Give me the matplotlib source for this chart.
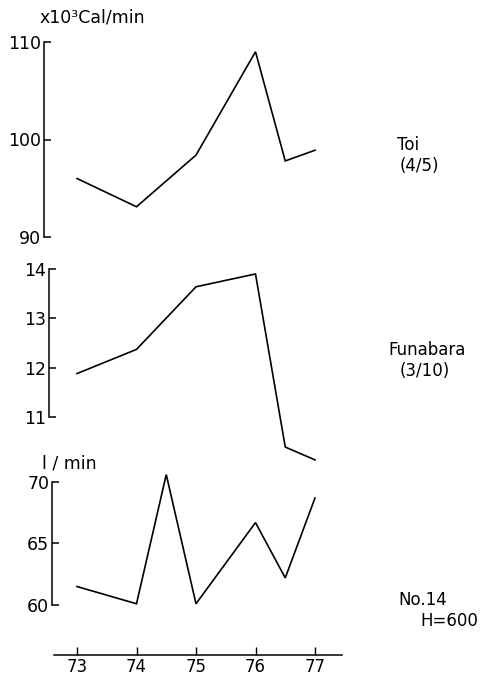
import matplotlib
matplotlib.use("Agg")
import matplotlib.pyplot as plt

# Yearly series (x = year, 19xx)
toi_years = [73, 74, 75, 76, 76.5, 77]
toi_values = [96.0, 93.1, 98.4, 109.0, 97.8, 98.9]

funabara_years = [73, 74, 75, 76, 76.5, 77]
funabara_values = [11.88, 12.37, 13.64, 13.9, 10.39, 10.13]

no14_years = [73, 74, 74.5, 75, 76, 76.5, 77]
no14_values = [61.5, 60.1, 70.6, 60.1, 66.7, 62.2, 68.7]

year_ticks = [73, 74, 75, 76, 77]
toi_ticks = [90, 100, 110]
funabara_ticks = [11, 12, 13, 14]
no14_ticks = [60, 65, 70]

W, H = 485, 678
fig = plt.figure(figsize=(W / 100, H / 100), dpi=100)
plt.rcParams["font.family"] = ["DejaVu Sans"]

XLIM = (72.3, 77.6)
X_LEFT_PX, X_RIGHT_PX = 35.35, 350.7


def box(top, bottom):
    return [X_LEFT_PX / W, 1 - bottom / H, (X_RIGHT_PX - X_LEFT_PX) / W, (bottom - top) / H]


def panel(rect, ylim, spine_x, ticks, xs, ys):
    ax = fig.add_axes(rect)
    ax.set_xlim(*XLIM)
    ax.set_ylim(*ylim)
    ax.patch.set_alpha(0)
    for s in ("top", "right", "bottom"):
        ax.spines[s].set_visible(False)
    ax.spines["left"].set_position(("data", spine_x))
    ax.spines["left"].set_bounds(ticks[0], ticks[-1])
    ax.spines["left"].set_linewidth(1.1)
    ax.set_yticks(ticks)
    ax.tick_params(axis="y", direction="in", length=5, width=1.1, pad=2, labelsize=12.5)
    ax.set_xticks([])
    ax.plot(xs, ys, color="black", lw=1.2, clip_on=False, solid_joinstyle="miter")
    return ax


panel(box(42, 237), (90, 110), 72.445, toi_ticks, toi_years, toi_values)
panel(box(264.1, 471.2), (9.9, 14.1), 72.53, funabara_ticks, funabara_years, funabara_values)
panel(box(463.5, 617.3), (59, 71.5), 72.58, no14_ticks, no14_years, no14_values)

# Shared year axis along the bottom
axx = fig.add_axes(box(645, 655))
axx.set_xlim(*XLIM)
axx.patch.set_alpha(0)
for s in ("top", "right", "left"):
    axx.spines[s].set_visible(False)
axx.spines["bottom"].set_bounds(72.61, 77.45)
axx.spines["bottom"].set_linewidth(1.1)
axx.set_yticks([])
axx.set_xticks(year_ticks)
axx.tick_params(axis="x", direction="in", length=6, width=1.0, pad=2.5, labelsize=12)

# Units and series labels
fig.text(40 / W, 1 - 18 / H, "x10³Cal/min", ha="left", va="center", fontsize=12.5)
fig.text(42 / W, 1 - 463 / H, "l / min", ha="left", va="center", fontsize=12.5)

fig.text(397 / W, 1 - 145 / H, "Toi", ha="left", va="center", fontsize=12)
fig.text(400 / W, 1 - 166 / H, "(4/5)", ha="left", va="center", fontsize=12)
fig.text(388 / W, 1 - 350 / H, "Funabara", ha="left", va="center", fontsize=12)
fig.text(400 / W, 1 - 371 / H, "(3/10)", ha="left", va="center", fontsize=12)
fig.text(398 / W, 1 - 600 / H, "No.14", ha="left", va="center", fontsize=12)
fig.text(420 / W, 1 - 621 / H, "H=600", ha="left", va="center", fontsize=12)

fig.savefig("out.png", dpi=100)
